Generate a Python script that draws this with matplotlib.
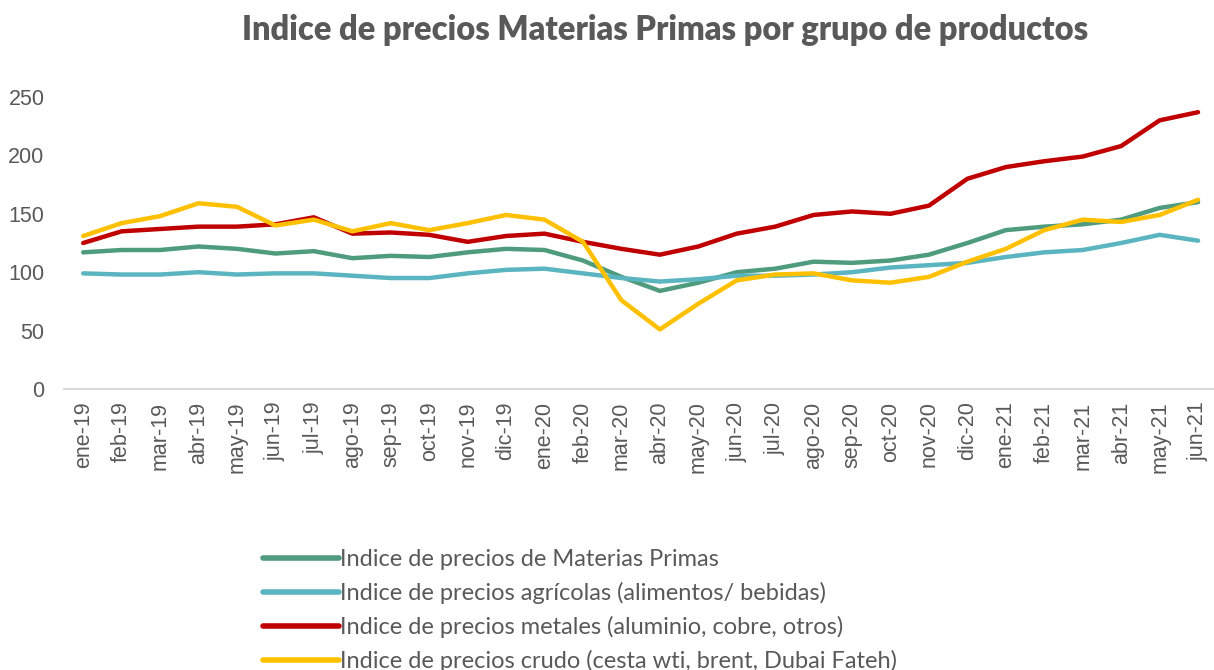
import matplotlib
matplotlib.use("Agg")
import matplotlib.pyplot as plt

# Months on the x axis
meses = ["ene-19", "feb-19", "mar-19", "abr-19", "may-19", "jun-19", "jul-19", "ago-19",
         "sep-19", "oct-19", "nov-19", "dic-19", "ene-20", "feb-20", "mar-20", "abr-20",
         "may-20", "jun-20", "jul-20", "ago-20", "sep-20", "oct-20", "nov-20", "dic-20",
         "ene-21", "feb-21", "mar-21", "abr-21", "may-21", "jun-21"]

# Series values
materias_primas = [117, 119, 119, 122, 120, 116, 118, 112, 114, 113, 117, 120, 119, 110, 96, 84,
                   91, 100, 103, 109, 108, 110, 115, 125, 136, 139, 141, 145, 155, 160]
agricolas = [99, 98, 98, 100, 98, 99, 99, 97, 95, 95, 99, 102, 103, 99, 95, 92,
             94, 97, 97, 98, 100, 104, 106, 108, 113, 117, 119, 125, 132, 127]
metales = [125, 135, 137, 139, 139, 141, 147, 133, 134, 132, 126, 131, 133, 126, 120, 115,
           122, 133, 139, 149, 152, 150, 157, 180, 190, 195, 199, 208, 230, 237]
crudo = [131, 142, 148, 159, 156, 140, 145, 135, 142, 136, 142, 149, 145, 126, 76, 51,
         73, 93, 98, 99, 93, 91, 96, 109, 120, 136, 145, 143, 149, 162]

etiquetas = ["Indice de precios de Materias Primas",
             "Indice de precios agrícolas (alimentos/ bebidas)",
             "Indice de precios metales (aluminio, cobre, otros)",
             "Indice de precios crudo (cesta wti, brent, Dubai Fateh)"]
colores = ["#4E9B7D", "#5BB5C0", "#C00000", "#FFC000"]

gris = "#595959"

fig = plt.figure(figsize=(12.14, 6.70), dpi=100)
ax = fig.add_axes([0.0527, 0.4194, 0.950, 0.4707])

x = list(range(len(meses)))
for serie, color, etiqueta in zip([materias_primas, agricolas, metales, crudo], colores, etiquetas):
    ax.plot(x, serie, color=color, linewidth=3.2, label=etiqueta, solid_capstyle="round")

ax.set_xlim(-0.5, len(meses) - 0.5)
ax.set_ylim(0, 270)
ax.set_yticks([0, 50, 100, 150, 200, 250])
ax.set_xticks(x)
ax.set_xticklabels(meses, rotation=90, fontsize=15.5, color=gris, family="Liberation Sans")
for lab in ax.get_yticklabels():
    lab.set_fontsize(15.5)
    lab.set_color(gris)
    lab.set_family("Liberation Sans")
ax.tick_params(axis="both", length=0)
ax.tick_params(axis="x", pad=9)
ax.tick_params(axis="y", pad=14)

for lado in ["top", "right", "left"]:
    ax.spines[lado].set_visible(False)
ax.spines["bottom"].set_color("#D9D9D9")
ax.spines["bottom"].set_linewidth(1.5)

fig.text(0.548, 0.955, "Indice de precios Materias Primas por grupo de productos",
         ha="center", va="center", fontsize=23.5, fontweight="heavy", color=gris, family="Lato")

leg = fig.legend(loc="upper left", bbox_to_anchor=(0.209, 0.194), frameon=False,
                 prop={"family": "Lato", "size": 17}, handlelength=3.2, handletextpad=0.05,
                 labelspacing=0.5, borderaxespad=0)
for t in leg.get_texts():
    t.set_color(gris)
for h in leg.get_lines():
    h.set_linewidth(4)

fig.savefig("out.png", dpi=100)
